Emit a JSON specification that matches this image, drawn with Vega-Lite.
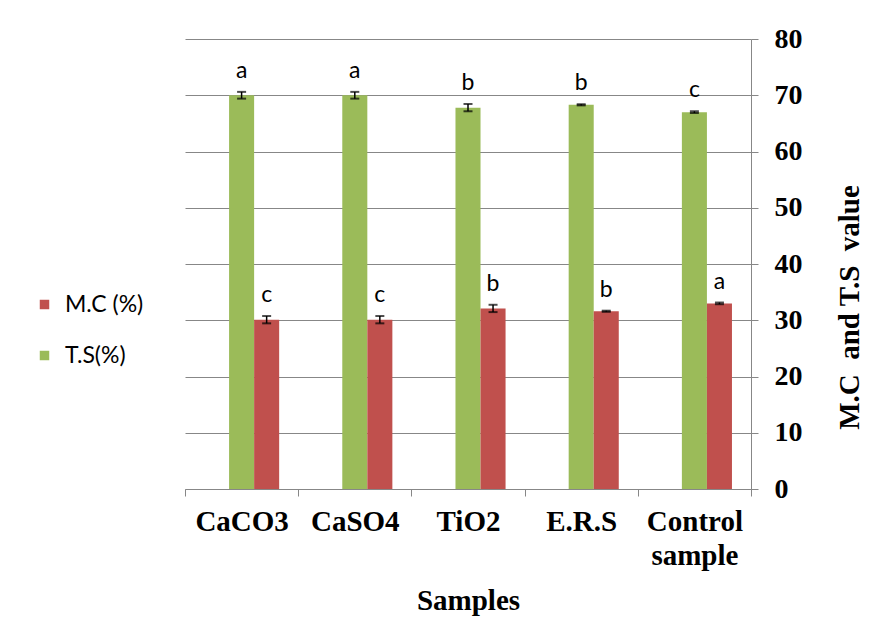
{
  "$schema": "https://vega.github.io/schema/vega-lite/v6.json",
  "autosize": {"type": "none"},
  "width": 566,
  "height": 450,
  "padding": {"left": 185, "top": 39, "right": 120, "bottom": 152},
  "background": "white",
  "config": {"view": {"stroke": null}},
  "data": {
    "values": [
      {"sample": "CaCO3", "series": "T.S(%)", "value": 70.0, "lo": 69.4, "hi": 70.6, "letter": "a"},
      {"sample": "CaCO3", "series": "M.C (%)", "value": 30.1, "lo": 29.45, "hi": 30.75, "letter": "c"},
      {"sample": "CaSO4", "series": "T.S(%)", "value": 70.0, "lo": 69.4, "hi": 70.6, "letter": "a"},
      {"sample": "CaSO4", "series": "M.C (%)", "value": 30.1, "lo": 29.45, "hi": 30.75, "letter": "c"},
      {"sample": "TiO2", "series": "T.S(%)", "value": 67.8, "lo": 67.15, "hi": 68.45, "letter": "b"},
      {"sample": "TiO2", "series": "M.C (%)", "value": 32.1, "lo": 31.45, "hi": 32.75, "letter": "b"},
      {"sample": "E.R.S", "series": "T.S(%)", "value": 68.3, "lo": 68.2, "hi": 68.4, "letter": "b"},
      {"sample": "E.R.S", "series": "M.C (%)", "value": 31.6, "lo": 31.5, "hi": 31.7, "letter": "b"},
      {"sample": "Control sample", "series": "T.S(%)", "value": 67.0, "lo": 66.85, "hi": 67.15, "letter": "c"},
      {"sample": "Control sample", "series": "M.C (%)", "value": 33.0, "lo": 32.85, "hi": 33.15, "letter": "a"}
    ]
  },
  "encoding": {
    "x": {
      "field": "sample",
      "type": "nominal",
      "sort": ["CaCO3", "CaSO4", "TiO2", "E.R.S", "Control sample"],
      "scale": {"paddingInner": 0, "paddingOuter": 0},
      "axis": {
        "title": "Samples",
        "titleFont": "Liberation Serif",
        "titleFontWeight": "bold",
        "titleFontSize": 29,
        "titleColor": "black",
        "titlePadding": 16,
        "labelAngle": 0,
        "labelFont": "Liberation Serif",
        "labelFontWeight": "bold",
        "labelFontSize": 29,
        "labelColor": "black",
        "labelPadding": 11,
        "labelLineHeight": 34,
        "labelExpr": "datum.label == 'Control sample' ? ['Control', 'sample'] : datum.label",
        "tickBand": "extent",
        "tickSize": 7,
        "tickColor": "#878787",
        "domainColor": "#878787",
        "grid": false
      }
    },
    "xOffset": {
      "field": "series",
      "type": "nominal",
      "scale": {"domain": ["blank", "T.S(%)", "M.C (%)"], "paddingInner": 0, "paddingOuter": 0.76}
    }
  },
  "layer": [
    {
      "mark": {"type": "bar"},
      "encoding": {
        "y": {
          "field": "value",
          "type": "quantitative",
          "scale": {"domain": [0, 80], "nice": false},
          "axis": {
            "orient": "right",
            "values": [0, 10, 20, 30, 40, 50, 60, 70, 80],
            "title": "M.C\u00a0 and T.S\u00a0 value",
            "titleAngle": 270,
            "titleY": 268,
            "titleFont": "Liberation Serif",
            "titleFontWeight": "bold",
            "titleFontSize": 29,
            "titleColor": "black",
            "titlePadding": 62,
            "labelFont": "Liberation Serif",
            "labelFontWeight": "bold",
            "labelFontSize": 28,
            "labelColor": "black",
            "labelPadding": 16,
            "tickSize": 7,
            "tickColor": "#878787",
            "domainColor": "#878787",
            "grid": true,
            "gridColor": "#878787"
          }
        },
        "color": {
          "field": "series",
          "type": "nominal",
          "scale": {"domain": ["M.C (%)", "T.S(%)"], "range": ["#C0504D", "#9BBB59"]},
          "legend": {
            "title": null,
            "orient": "none",
            "legendX": -152,
            "legendY": 254,
            "symbolType": "square",
            "symbolSize": 90,
            "symbolStrokeWidth": 0,
            "labelFont": "Lato",
            "labelFontSize": 23,
            "labelColor": "black",
            "labelOffset": 9,
            "rowPadding": 27
          }
        }
      }
    },
    {
      "mark": {"type": "rule", "color": "black", "strokeWidth": 1.5},
      "encoding": {
        "y": {"field": "lo", "type": "quantitative"},
        "y2": {"field": "hi"}
      }
    },
    {
      "mark": {"type": "tick", "color": "black", "thickness": 2, "size": 9},
      "encoding": {"y": {"field": "lo", "type": "quantitative"}}
    },
    {
      "mark": {"type": "tick", "color": "black", "thickness": 2, "size": 9},
      "encoding": {"y": {"field": "hi", "type": "quantitative"}}
    },
    {
      "mark": {"type": "text", "font": "Lato", "fontSize": 23, "color": "black", "baseline": "alphabetic", "dy": -14},
      "encoding": {
        "y": {"field": "hi", "type": "quantitative"},
        "text": {"field": "letter"}
      }
    }
  ]
}
